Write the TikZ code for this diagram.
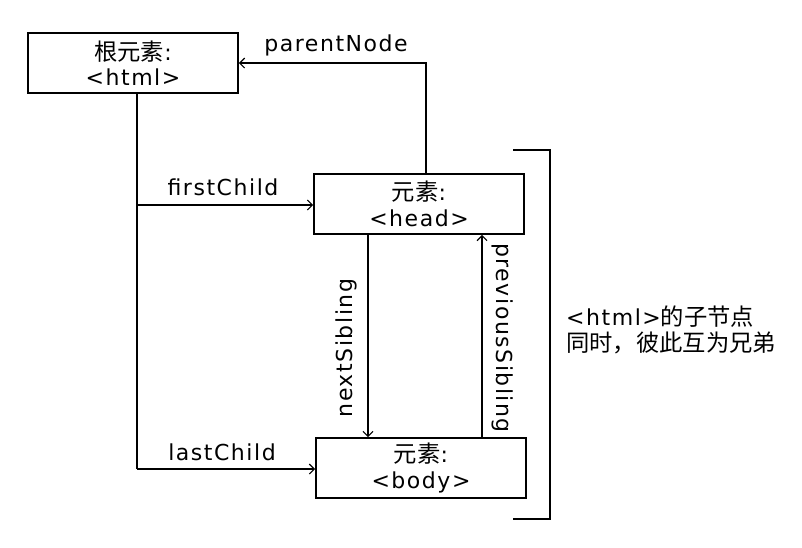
\documentclass[tikz,border=0pt]{standalone}
\usepackage{fontspec}
\setmainfont[LetterSpace=7]{DejaVu Sans}
\newfontfamily\cjk[Scale=1.06]{Noto Sans CJK SC}
\usetikzlibrary{arrows.meta}
\begin{document}
\begin{tikzpicture}[x=1pt,y=-1pt,
  every node/.style={font=\fontsize{22}{25.5}\selectfont, inner sep=0pt},
  elem/.style={draw, line width=1.6pt, minimum width=210pt, minimum height=60pt, align=center},
  conn/.style={line width=1.4pt},
  arr/.style={conn, -{Straight Barb[length=5pt,width=10pt,line width=1.2pt]}},
  lbl/.style={anchor=center}]
\useasboundingbox[fill=white] (0,0) rectangle (802,547);
\node[elem] (html) at (133,63) {{\cjk 根元素}:\\<html>};
\node[elem] (head) at (419,204) {{\cjk 元素}:\\<head>};
\node[elem] (body) at (421,468) {{\cjk 元素}:\\<body>};
\coordinate (pn) at (426,63);
\coordinate (trunk) at (137,93);
\coordinate (fc) at (137,205);
\coordinate (lc) at (137,469);
\coordinate (ns) at (368,300);
\coordinate (ps) at (482,300);
\draw[arr] (head.north -| pn) -- (pn) -- (html.east |- pn);
\draw[conn] (html.south -| trunk) -- (lc);
\draw[arr] (fc) -- (head.west |- fc);
\draw[arr] (lc) -- (body.west |- lc);
\draw[arr] (head.south -| ns) -- (body.north -| ns);
\draw[arr] (body.north -| ps) -- (head.south -| ps);
\node[lbl] (lpn) at (336,45) {parentNode};
\node[lbl] (lfc) at (223,187) {firstChild};
\node[lbl] (llc) at (222,452) {lastChild};
\node[lbl, rotate=90] (lns) at (346,348) {nextSibling};
\node[lbl, rotate=-90] (lps) at (503,338) {previousSibling};
\coordinate (b1) at (513,150);
\coordinate (b2) at (550,150);
\coordinate (b3) at (550,519);
\coordinate (b4) at (513,519);
\draw[conn] (b1) -- (b2) -- (b3) -- (b4);
\node[anchor=west, align=left] (note) at (566,330) {<html>{\cjk 的子节点}\\{\cjk 同时，彼此互为兄弟}};
\end{tikzpicture}
\end{document}
